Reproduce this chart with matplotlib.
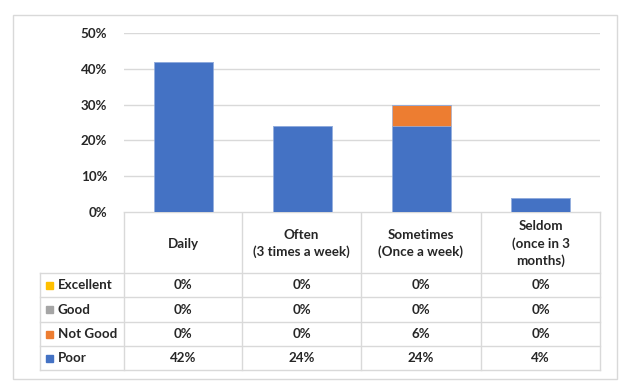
import matplotlib.pyplot as plt
from matplotlib.patches import Rectangle

categories = ['Daily', 'Often\n(3 times a week)', 'Sometimes\n(Once a week)', 'Seldom\n(once in 3\nmonths)']
series = ['Excellent', 'Good', 'Not Good', 'Poor']
excellent = [0.00, 0.00, 0.00, 0.00]
good      = [0.00, 0.00, 0.00, 0.00]
not_good  = [0.00, 0.00, 0.06, 0.00]
poor      = [0.42, 0.24, 0.24, 0.04]
values = {'Excellent': excellent, 'Good': good, 'Not Good': not_good, 'Poor': poor}
colors = {'Excellent': '#FFC000', 'Good': '#A5A5A5', 'Not Good': '#ED7D31', 'Poor': '#4472C4'}
yticks = [0, 0.1, 0.2, 0.3, 0.4, 0.5]

W, H = 619, 381
FONT = 'Lato'
FS = 9.6
TXT = '#262626'
LINE = '#d9d9d9'

fig = plt.figure(figsize=(W / 100, H / 100), dpi=100)
fig.patch.set_facecolor('white')

# plot area in pixels
px0, px1, py0, py1 = 124, 600, 33, 212
ax = fig.add_axes([px0 / W, 1 - py1 / H, (px1 - px0) / W, (py1 - py0) / H])
x = range(len(categories))
bottom = [0.0] * len(categories)
for s in ['Poor', 'Not Good', 'Good', 'Excellent']:
    ax.bar(x, values[s], bottom=bottom, width=0.5, color=colors[s],
           edgecolor='#8faadc', linewidth=0.4, zorder=3)
    bottom = [b + v for b, v in zip(bottom, values[s])]
ax.set_xlim(-0.5, len(categories) - 0.5)
ax.set_ylim(0, 0.5)
ax.set_yticks(yticks)
ax.set_yticklabels([f'{int(round(t * 100))}%' for t in yticks],
                   fontfamily=FONT, fontsize=FS, fontweight='bold', color=TXT)
ax.tick_params(axis='y', length=0, pad=12)
ax.set_xticks([])
ax.grid(axis='y', color=LINE, linewidth=1, zorder=0)
for sp in ax.spines.values():
    sp.set_visible(False)

# overlay in pixel coordinates for the data table and frame
ov = fig.add_axes([0, 0, 1, 1], zorder=-1)
ov.set_xlim(0, W)
ov.set_ylim(H, 0)
ov.axis('off')
ov.add_patch(Rectangle((13, 15), 604, 364, fill=False, edgecolor=LINE, linewidth=1))

col_x = [124, 242, 361, 481, 600]
row_y = [212, 273, 297, 322, 346, 370]
lx = 40
for i, yy in enumerate(row_y):
    ov.plot([lx if i > 0 else col_x[0], col_x[-1]], [yy, yy], color=LINE, lw=1)
for xx in col_x:
    ov.plot([xx, xx], [row_y[0], row_y[-1]], color=LINE, lw=1)
ov.plot([lx, lx], [row_y[1], row_y[-1]], color=LINE, lw=1)

for j, cat in enumerate(categories):
    cx = (col_x[j] + col_x[j + 1]) / 2
    ov.text(cx, (row_y[0] + row_y[1]) / 2 + 1, cat, ha='center', va='center',
            fontfamily=FONT, fontsize=FS, fontweight='bold', color=TXT, linespacing=1.45)

for i, s in enumerate(series):
    cy = (row_y[i + 1] + row_y[i + 2]) / 2
    ov.add_patch(Rectangle((46, cy - 3.5), 7, 7, color=colors[s]))
    ov.text(58, cy, s, ha='left', va='center', fontfamily=FONT, fontsize=FS,
            fontweight='bold', color=TXT)
    for j, v in enumerate(values[s]):
        cx = (col_x[j] + col_x[j + 1]) / 2
        ov.text(cx, cy, f'{int(round(v * 100))}%', ha='center', va='center',
                fontfamily=FONT, fontsize=FS, fontweight='bold', color=TXT)

fig.savefig('out.png', dpi=100, facecolor='white')
